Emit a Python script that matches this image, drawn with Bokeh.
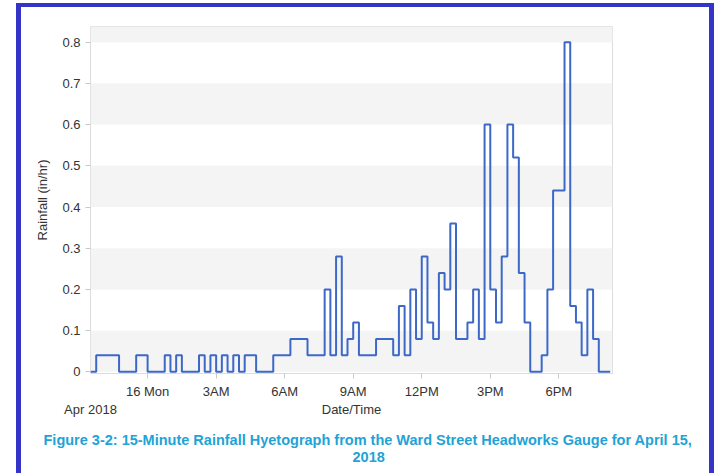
import pandas as pd
from bokeh.plotting import figure
from bokeh.models import FixedTicker, Range1d, DatetimeAxis, Title, Spacer, BoxAnnotation
from bokeh.layouts import column, row
from bokeh.embed import file_html
from bokeh.resources import INLINE

# ---- data: 15-minute rainfall intensity (in/hr), slots starting 2018-04-15 21:30 ----
slot_start = "2018-04-15 21:30"
rain = [
    0.00, 0.04, 0.04, 0.04, 0.04, 0.00, 0.00, 0.00, 0.04, 0.04,   # 21:30 - 23:45
    0.00, 0.00, 0.00, 0.04, 0.00, 0.04, 0.00, 0.00, 0.00, 0.04,   # 00:00 - 02:15
    0.00, 0.04, 0.00, 0.04, 0.00, 0.04, 0.00, 0.04, 0.04, 0.00,   # 02:30 - 04:45
    0.00, 0.00, 0.04, 0.04, 0.04, 0.08, 0.08, 0.08, 0.04, 0.04,   # 05:00 - 07:15
    0.04, 0.20, 0.04, 0.28, 0.04, 0.08, 0.12, 0.04, 0.04, 0.04,   # 07:30 - 09:45
    0.08, 0.08, 0.08, 0.04, 0.16, 0.04, 0.20, 0.08, 0.28, 0.12,   # 10:00 - 12:15
    0.08, 0.24, 0.20, 0.36, 0.08, 0.08, 0.12, 0.20, 0.08, 0.60,   # 12:30 - 14:45
    0.20, 0.12, 0.28, 0.60, 0.52, 0.24, 0.12, 0.00, 0.00, 0.04,   # 15:00 - 17:15
    0.20, 0.44, 0.44, 0.80, 0.16, 0.12, 0.04, 0.20, 0.08, 0.00,   # 17:30 - 19:45
    0.00,                                                         # 20:00
]
rain_end = 0.00  # value at 20:15 (end of record)

x_start = "2018-04-15 21:30"
x_end = "2018-04-16 20:21"
tick_times = ["2018-04-16 00:00", "2018-04-16 03:00", "2018-04-16 06:00",
              "2018-04-16 09:00", "2018-04-16 12:00", "2018-04-16 15:00",
              "2018-04-16 18:00"]
tick_labels = ["16 Mon", "3AM", "6AM", "9AM", "12PM", "3PM", "6PM"]
y_ticks = [0, 0.1, 0.2, 0.3, 0.4, 0.5, 0.6, 0.7, 0.8]
y_tick_labels = ["0", "0.1", "0.2", "0.3", "0.4", "0.5", "0.6", "0.7", "0.8"]
year_label = "Apr 2018"
x_title = "Date/Time"
y_title = "Rainfall (in/hr)"
caption_1 = "Figure 3-2: 15-Minute Rainfall Hyetograph from the Ward Street Headworks Gauge for April 15,"
caption_2 = "2018"

times = pd.date_range(slot_start, periods=len(rain) + 1, freq="15min")
values = rain + [rain_end]

FONT = "Liberation Sans"
TXT = "#333333"
BLUE = "#3434c8"
CAP = "#22a3d6"
BAND = "#f4f4f4"

fig = figure(
    x_axis_type="datetime",
    width=688, height=466,
    min_border_left=69, min_border_right=97, min_border_top=19, min_border_bottom=100,
    x_range=Range1d(pd.Timestamp(x_start), pd.Timestamp(x_end)),
    y_range=Range1d(-0.004, 0.838),
    output_backend="svg", toolbar_location=None,
)

fig.step(times, values, mode="after", line_color="#3c68c8", line_width=2)

# background bands
fig.background_fill_color = "white"
fig.border_fill_color = "white"
fig.outline_line_color = "#dcdcdc"
fig.xgrid.grid_line_color = None
fig.ygrid.grid_line_color = None
fig.ygrid.band_fill_color = BAND
fig.ygrid.band_fill_alpha = 1.0
fig.add_layout(BoxAnnotation(bottom=y_ticks[-1], fill_color=BAND, fill_alpha=1.0,
                             line_color=None, level="underlay"))

# y axis
fig.yaxis.ticker = FixedTicker(ticks=y_ticks)
fig.yaxis.major_label_overrides = {t: l for t, l in zip(y_ticks, y_tick_labels)}
fig.yaxis.axis_label = y_title
fig.yaxis.axis_line_color = None
fig.yaxis.major_tick_line_color = "#c8c8c8"
fig.yaxis.major_tick_in = 0
fig.yaxis.major_tick_out = 5
fig.yaxis.minor_tick_line_color = None
fig.yaxis.major_label_standoff = 5
fig.yaxis.axis_label_standoff = 9

# x axis
tick_ms = [pd.Timestamp(t).value / 1e6 for t in tick_times]
fig.xaxis.ticker = FixedTicker(ticks=tick_ms)
fig.xaxis.major_label_overrides = {t: l for t, l in zip(tick_ms, tick_labels)}
fig.xaxis.axis_line_color = None
fig.xaxis.major_tick_line_color = "#c8c8c8"
fig.xaxis.major_tick_in = 0
fig.xaxis.major_tick_out = 5
fig.xaxis.minor_tick_line_color = None
fig.xaxis.major_label_standoff = 5

# second row under the ticks: "Apr 2018" at the left end and the axis title in the middle
x0_ms = pd.Timestamp(x_start).value / 1e6
x1_ms = pd.Timestamp(x_end).value / 1e6
xmid_ms = (x0_ms + x1_ms) / 2
ax2 = DatetimeAxis(ticker=FixedTicker(ticks=[x0_ms, xmid_ms]),
                   major_label_overrides={x0_ms: year_label, xmid_ms: x_title},
                   axis_line_color=None, major_tick_line_color=None,
                   minor_tick_line_color=None, major_tick_in=0, major_tick_out=0,
                   major_label_standoff=0,
                   axis_label=" ", axis_label_standoff=5)
fig.add_layout(ax2, "below")

for ax in (fig.xaxis[0], fig.yaxis[0], ax2):
    ax.major_label_text_font = FONT
    ax.major_label_text_font_size = "13px"
    ax.major_label_text_color = TXT
    ax.axis_label_text_font = FONT
    ax.axis_label_text_font_size = "13px"
    ax.axis_label_text_font_style = "normal"
    ax.axis_label_text_color = TXT
ax2.axis_label_text_font_size = "1px"

for txt, off, so in ((caption_1, -47, 4), (caption_2, 262, 1)):
    fig.add_layout(Title(text=txt, align="left", offset=off, standoff=so,
                         vertical_align="middle",
                         text_font=FONT, text_font_size="14.5px", text_font_style="bold",
                         text_color=CAP), "below")

# blue page frame
top_gap = Spacer(width=714, height=3)
top = row(Spacer(width=16, height=4),
          Spacer(width=698, height=4, styles={"background-color": BLUE}))
mid = row(Spacer(width=16, height=466),
          Spacer(width=5, height=466, styles={"background-color": BLUE}),
          fig,
          Spacer(width=5, height=466, styles={"background-color": BLUE}))
p = column(top_gap, top, mid)

open("out.html", "w").write(file_html(p, INLINE))
